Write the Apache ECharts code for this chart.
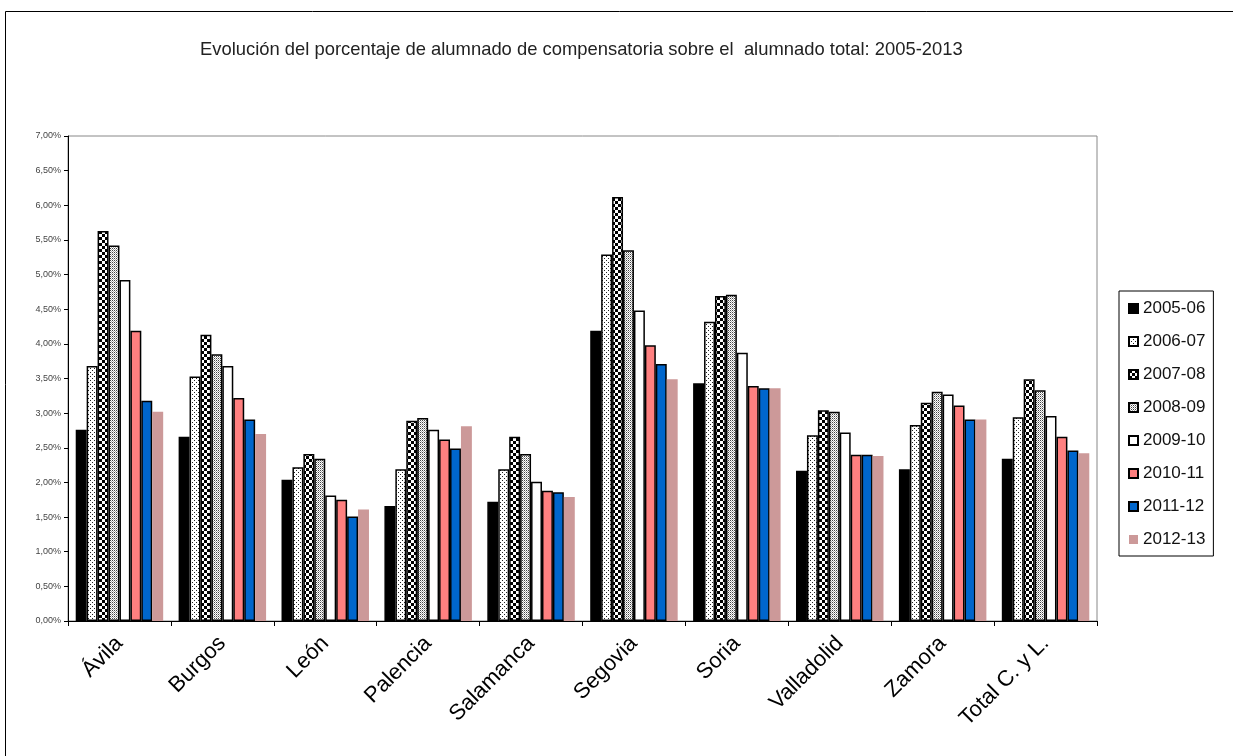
<!DOCTYPE html>
<html>
<head>
<meta charset="utf-8">
<script src="https://cdn.jsdelivr.net/npm/echarts@6/dist/echarts.min.js"></script>
<style>html,body{margin:0;padding:0;background:#fff;}#c{width:1233px;height:756px;}</style>
</head>
<body>
<div id="c"></div>
<script>
const titleText = 'Evolución del porcentaje de alumnado de compensatoria sobre el  alumnado total: 2005-2013';
const categories = ['Ávila','Burgos','León','Palencia','Salamanca','Segovia','Soria','Valladolid','Zamora','Total C. y L.'];
const seriesNames = ['2005-06','2006-07','2007-08','2008-09','2009-10','2010-11','2011-12','2012-13'];
const v2005_06 = [2.76,2.66,2.04,1.66,1.72,4.19,3.43,2.17,2.19,2.34];
const v2006_07 = [3.68,3.53,2.22,2.19,2.19,5.29,4.32,2.68,2.83,2.94];
const v2007_08 = [5.63,4.13,2.41,2.89,2.66,6.12,4.69,3.04,3.15,3.49];
const v2008_09 = [5.42,3.85,2.34,2.93,2.41,5.35,4.71,3.02,3.31,3.33];
const v2009_10 = [4.92,3.68,1.81,2.76,2.01,4.48,3.87,2.72,3.27,2.96];
const v2010_11 = [4.19,3.22,1.75,2.62,1.88,3.98,3.39,2.40,3.11,2.66];
const v2011_12 = [3.18,2.91,1.51,2.49,1.86,3.71,3.36,2.40,2.91,2.46];
const v2012_13 = [3.02,2.70,1.61,2.81,1.79,3.49,3.36,2.38,2.91,2.42];
const allValues = [v2005_06,v2006_07,v2007_08,v2008_09,v2009_10,v2010_11,v2011_12,v2012_13];

function makePattern(w, h, draw) {
  const c = document.createElement('canvas');
  c.width = w; c.height = h;
  const ctx = c.getContext('2d');
  ctx.fillStyle = '#fff'; ctx.fillRect(0, 0, w, h);
  draw(ctx);
  return { image: c, repeat: 'repeat' };
}
const dotPattern = makePattern(4, 4, ctx => {
  ctx.fillStyle = '#222';
  ctx.fillRect(2, 0, 1, 1);
  ctx.fillRect(0, 2, 1, 1);
});
const checkPattern = makePattern(6, 6, ctx => {
  ctx.fillStyle = '#000';
  ctx.fillRect(0, 0, 3, 3);
  ctx.fillRect(3, 3, 3, 3);
});
const finePattern = makePattern(2, 2, ctx => {
  ctx.fillStyle = '#444';
  ctx.fillRect(0, 0, 1, 1);
  ctx.fillStyle = '#aaa';
  ctx.fillRect(1, 1, 1, 1);
});
const fills = ['#000000', dotPattern, checkPattern, finePattern, '#ffffff', '#FF8080', '#0066CC', '#CC9999'];

const chart = echarts.init(document.getElementById('c'), null, { renderer: 'canvas' });
const font = '"Liberation Sans", Arial, sans-serif';
chart.setOption({
  animation: false,
  backgroundColor: '#fff',
  textStyle: { fontFamily: font },
  title: {
    text: titleText,
    left: 195, top: 36,
    textStyle: { fontSize: 18.4, fontWeight: 'normal', color: '#222', fontFamily: font }
  },
  graphic: [{
    type: 'rect', left: 3, top: 9, silent: true,
    shape: { x: 0, y: 0, width: 1260, height: 780 },
    style: { fill: 'none', stroke: '#000', lineWidth: 1 }
  }],
  legend: {
    orient: 'vertical',
    left: 1119, top: 291,
    padding: [9, 8, 8, 9],
    itemGap: 16,
    itemWidth: 9, itemHeight: 9,
    icon: 'rect',
    borderColor: '#000', borderWidth: 1,
    backgroundColor: '#fff',
    textStyle: { fontSize: 17, color: '#111', lineHeight: 17, fontFamily: font },
    data: seriesNames
  },
  grid: { left: 68, right: 136, top: 136, bottom: 135, show: true, borderColor: '#888', borderWidth: 1, containLabel: false },
  xAxis: {
    type: 'category',
    data: categories,
    axisLine: { lineStyle: { color: '#000', width: 1 } },
    axisTick: { show: true, length: 5, lineStyle: { color: '#000' } },
    axisLabel: { rotate: 45, fontSize: 22, color: '#000', margin: 19, interval: 0, fontFamily: font },
    splitLine: { show: false }
  },
  yAxis: {
    type: 'value',
    min: 0, max: 7, interval: 0.5,
    axisLine: { show: true, lineStyle: { color: '#000', width: 1 } },
    axisTick: { show: true, length: 4, lineStyle: { color: '#000' } },
    axisLabel: {
      fontSize: 9, color: '#444', margin: 7, fontFamily: font,
      formatter: v => v.toFixed(2).replace('.', ',') + '%'
    },
    splitLine: { show: false }
  },
  series: seriesNames.map((name, i) => ({
    name,
    type: 'bar',
    data: allValues[i],
    barGap: '0%',
    barCategoryGap: '15%',
    itemStyle: {
      color: fills[i],
      borderColor: i === 7 ? 'transparent' : '#000',
      borderWidth: i === 7 ? 0 : 1.5
    }
  }))
});
</script>
</body>
</html>
